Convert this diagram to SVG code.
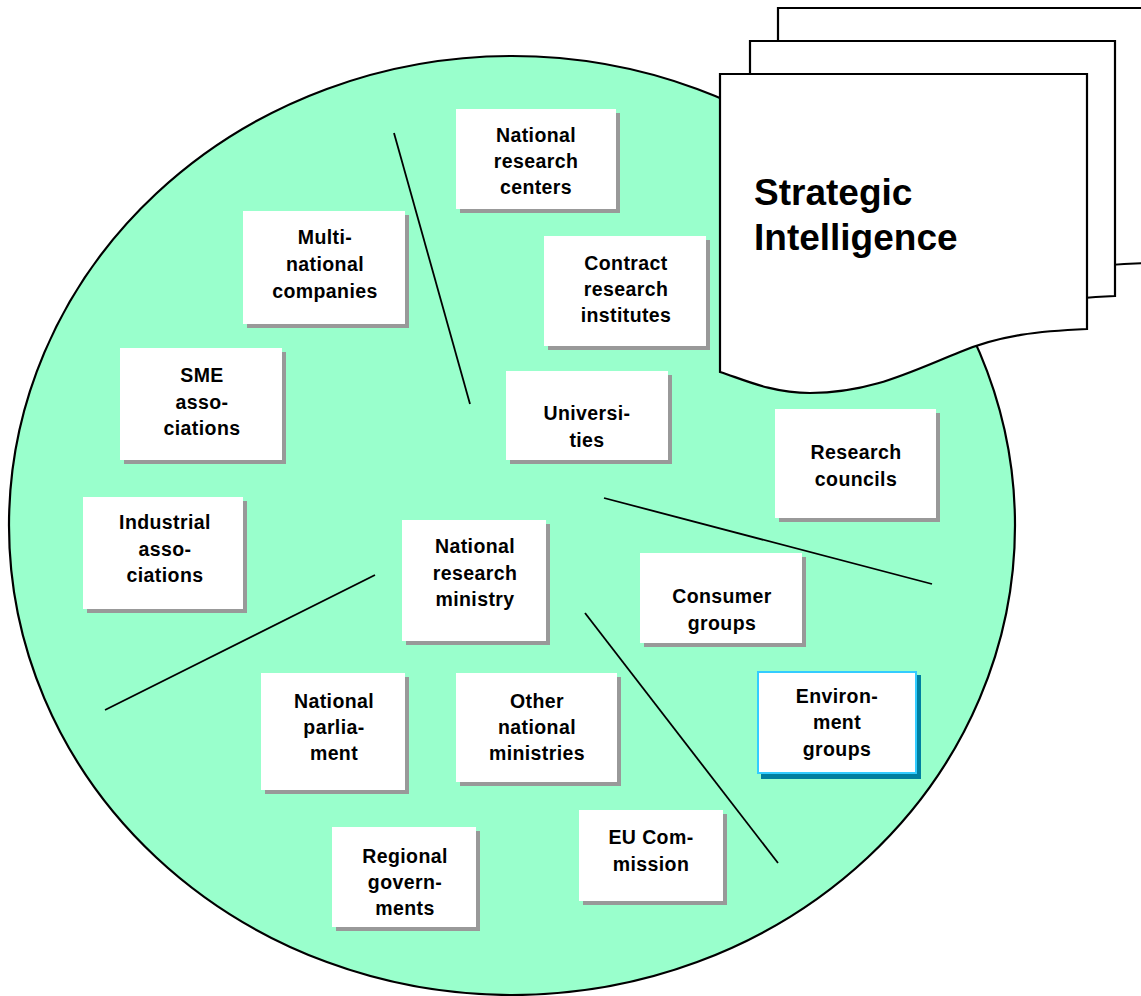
<svg xmlns="http://www.w3.org/2000/svg" width="1141" height="996" viewBox="0 0 1141 996">
<style>
.bg{fill:#99FFCC;stroke:#000;stroke-width:2.2}
.box{fill:#fff}
.sh{fill:#999}
.lbl{font-family:"Liberation Sans",Arial,sans-serif;font-weight:bold;font-size:19.5px;letter-spacing:0.4px;fill:#000;text-anchor:middle}
.doc{fill:#fff;stroke:#000;stroke-width:2.2;stroke-linejoin:miter}
.big{font-family:"Liberation Sans",Arial,sans-serif;font-weight:bold;font-size:37px;fill:#000}
.conn line{stroke:#000;stroke-width:1.8}
</style>
<ellipse id="circle" class="bg" cx="512" cy="525.5" rx="503" ry="469.5"/>
<g id="connectors" class="conn">
<line x1="394" y1="133" x2="470" y2="404"/>
<line x1="604" y1="498" x2="932" y2="584"/>
<line x1="585" y1="613" x2="778" y2="863"/>
<line x1="375" y1="575" x2="105" y2="710"/>
</g>
<g id="n-nrc"><rect class="sh" x="460" y="113" width="160" height="100"/><rect class="box" x="456" y="109" width="160" height="100"/><text class="lbl" x="536" y="142">National<tspan x="536" dy="26">research</tspan><tspan x="536" dy="26">centers</tspan></text></g>
<g id="n-multi"><rect class="sh" x="247" y="215" width="162" height="113"/><rect class="box" x="243" y="211" width="162" height="113"/><text class="lbl" x="325" y="244">Multi-<tspan x="325" dy="27">national</tspan><tspan x="325" dy="27">companies</tspan></text></g>
<g id="n-contract"><rect class="sh" x="548" y="240" width="162" height="110"/><rect class="box" x="544" y="236" width="162" height="110"/><text class="lbl" x="626" y="270">Contract<tspan x="626" dy="26">research</tspan><tspan x="626" dy="26">institutes</tspan></text></g>
<g id="n-sme"><rect class="sh" x="124" y="352" width="162" height="112"/><rect class="box" x="120" y="348" width="162" height="112"/><text class="lbl" x="202" y="382">SME<tspan x="202" dy="26.5">asso-</tspan><tspan x="202" dy="26.5">ciations</tspan></text></g>
<g id="n-univ"><rect class="sh" x="510" y="375" width="162" height="89"/><rect class="box" x="506" y="371" width="162" height="89"/><text class="lbl" x="587" y="420">Universi-<tspan x="587" dy="26.5">ties</tspan></text></g>
<g id="n-councils"><rect class="sh" x="779" y="413" width="161" height="109"/><rect class="box" x="775" y="409" width="161" height="109"/><text class="lbl" x="856" y="459">Research<tspan x="856" dy="26.5">councils</tspan></text></g>
<g id="n-industrial"><rect class="sh" x="87" y="501" width="160" height="112"/><rect class="box" x="83" y="497" width="160" height="112"/><text class="lbl" x="165" y="529">Industrial<tspan x="165" dy="26.5">asso-</tspan><tspan x="165" dy="26.5">ciations</tspan></text></g>
<g id="n-ministry"><rect class="sh" x="406" y="524" width="144" height="121"/><rect class="box" x="402" y="520" width="144" height="121"/><text class="lbl" x="475" y="553">National<tspan x="475" dy="26.5">research</tspan><tspan x="475" dy="26.5">ministry</tspan></text></g>
<g id="n-consumer"><rect class="sh" x="644" y="557" width="162" height="90"/><rect class="box" x="640" y="553" width="162" height="90"/><text class="lbl" x="722" y="603">Consumer<tspan x="722" dy="27">groups</tspan></text></g>
<g id="n-environment"><rect x="761" y="675" width="160" height="104" fill="#007FA0"/><rect x="758" y="672" width="158" height="101" fill="#fff" stroke="#33CCFF" stroke-width="2"/><text class="lbl" x="837" y="703">Environ-<tspan x="837" dy="26">ment</tspan><tspan x="837" dy="26.5">groups</tspan></text></g>
<g id="n-parliament"><rect class="sh" x="265" y="677" width="144" height="117"/><rect class="box" x="261" y="673" width="144" height="117"/><text class="lbl" x="334" y="708">National<tspan x="334" dy="26">parlia-</tspan><tspan x="334" dy="26">ment</tspan></text></g>
<g id="n-other"><rect class="sh" x="460" y="677" width="161" height="109"/><rect class="box" x="456" y="673" width="161" height="109"/><text class="lbl" x="537" y="708">Other<tspan x="537" dy="26">national</tspan><tspan x="537" dy="26">ministries</tspan></text></g>
<g id="n-regional"><rect class="sh" x="336" y="831" width="144" height="100"/><rect class="box" x="332" y="827" width="144" height="100"/><text class="lbl" x="405" y="863">Regional<tspan x="405" dy="26">govern-</tspan><tspan x="405" dy="26">ments</tspan></text></g>
<g id="n-eu"><rect class="sh" x="583" y="814" width="144" height="91"/><rect class="box" x="579" y="810" width="144" height="91"/><text class="lbl" x="651" y="844">EU Com-<tspan x="651" dy="27">mission</tspan></text></g>
<g id="n-strategic">
<path class="doc" d="M778,8 H1150 V263 C1100,264 1058,269 1018,286 C968,306 928,326 868,327 C828,327 798,312 778,306 Z"/>
<path class="doc" d="M750,41 H1115 V296 C1068,298 1028,302 988,319 C938,339 898,359 838,360 C798,360 768,345 750,339 Z"/>
<path class="doc" d="M720,74 H1087 V329 C1040,331 1000,335 960,352 C910,372 870,393 810,393 C770,393 740,378 720,372 Z"/>
<text class="big" x="754" y="205">Strategic<tspan x="754" dy="45">Intelligence</tspan></text>
</g>
</svg>
